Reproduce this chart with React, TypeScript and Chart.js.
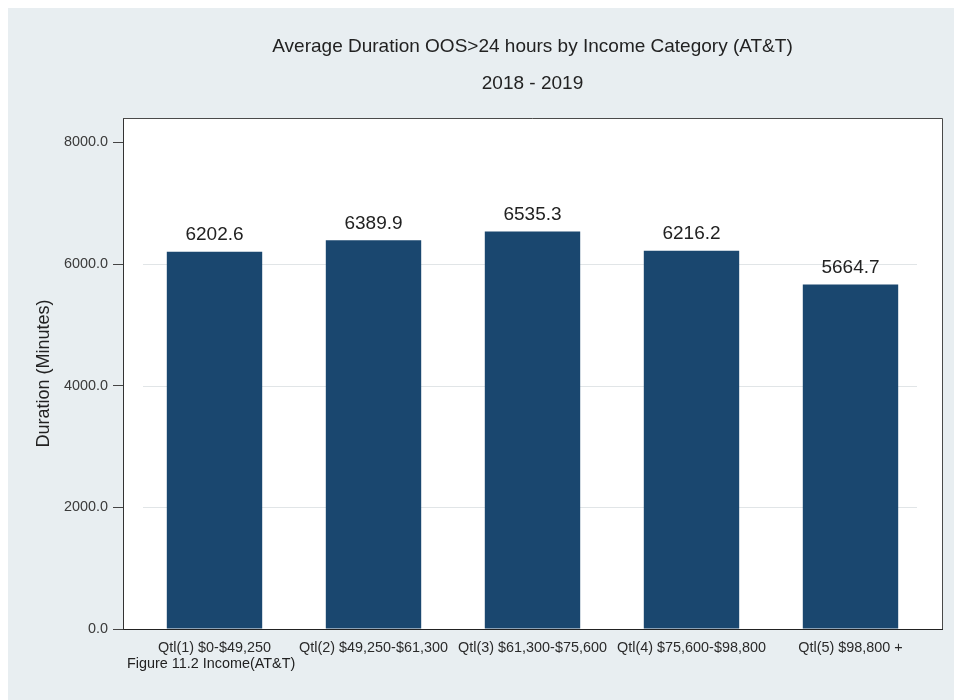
import React, { useEffect, useRef } from "react";
import { Chart, registerables } from "chart.js";

Chart.register(...registerables);

const categories = [
  "Qtl(1) $0-$49,250",
  "Qtl(2) $49,250-$61,300",
  "Qtl(3) $61,300-$75,600",
  "Qtl(4) $75,600-$98,800",
  "Qtl(5) $98,800 +",
];
const durations = [6202.6, 6389.9, 6535.3, 6216.2, 5664.7];
const yTicks = [0, 2000, 4000, 6000, 8000];
const gridValues = [2000, 4000, 6000];
const titleText = "Average Duration OOS>24 hours by Income Category (AT&T)";
const subtitleText = "2018 - 2019";
const yTitle = "Duration (Minutes)";
const noteText = "Figure 11.2 Income(AT&T)";

const FONT = "'Liberation Sans', Arial, Helvetica, sans-serif";
const BG = "#e8eef1";
const BAR = "#1a476f";

const decorPlugin = {
  id: "decor",
  beforeDraw(chart: any) {
    const { ctx, chartArea } = chart;
    ctx.save();
    ctx.fillStyle = BG;
    ctx.fillRect(0, 0, chart.width, chart.height);
    ctx.fillStyle = "#ffffff";
    ctx.fillRect(chartArea.left, chartArea.top, chartArea.right - chartArea.left, chartArea.bottom - chartArea.top);
    ctx.restore();
  },
  beforeDatasetsDraw(chart: any) {
    const { ctx, chartArea, scales } = chart;
    ctx.save();
    ctx.strokeStyle = "#e1e5e7";
    ctx.lineWidth = 1.2;
    gridValues.forEach((v) => {
      const y = Math.round(scales.y.getPixelForValue(v)) + 0.5;
      ctx.beginPath();
      ctx.moveTo(chartArea.left + 20, y);
      ctx.lineTo(chartArea.right - 25, y);
      ctx.stroke();
    });
    ctx.restore();
  },
  afterDatasetsDraw(chart: any) {
    const { ctx } = chart;
    const meta = chart.getDatasetMeta(0);
    ctx.save();
    ctx.fillStyle = "#222222";
    ctx.font = `19px ${FONT}`;
    ctx.textAlign = "center";
    ctx.textBaseline = "alphabetic";
    meta.data.forEach((el: any, i: number) => {
      ctx.fillText(durations[i].toFixed(1), el.x, el.y - 11.5);
    });
    ctx.restore();
  },
  afterDraw(chart: any) {
    const { ctx, chartArea } = chart;
    ctx.save();
    ctx.strokeStyle = "#4a4a4a";
    ctx.lineWidth = 1;
    ctx.beginPath();
    ctx.moveTo(chartArea.left, chartArea.top + 0.5);
    ctx.lineTo(chartArea.right + 0.5, chartArea.top + 0.5);
    ctx.lineTo(chartArea.right + 0.5, chartArea.bottom);
    ctx.stroke();
    ctx.fillStyle = "#222222";
    ctx.font = `14.4px ${FONT}`;
    ctx.textAlign = "left";
    ctx.textBaseline = "middle";
    ctx.fillText(noteText, chartArea.left + 4, 656.5);
    ctx.restore();
  },
};

export default function App() {
  const canvasRef = useRef<HTMLCanvasElement | null>(null);

  useEffect(() => {
    if (!canvasRef.current) return;
    const chart = new Chart(canvasRef.current, {
      type: "bar",
      data: {
        datasets: [
          {
            data: durations.map((v, i) => ({ x: i, y: v })),
            backgroundColor: BAR,
            borderWidth: 0,
            barPercentage: 0.6,
            categoryPercentage: 1,
          },
        ],
      },
      options: {
        animation: false,
        responsive: false,
        layout: { padding: { left: 0, right: 12, top: 0, bottom: 0 } },
        plugins: {
          legend: { display: false },
          tooltip: { enabled: false },
          title: {
            display: true,
            text: titleText,
            fullSize: false,
            color: "#222222",
            font: { family: FONT, size: 19, weight: "normal" },
            padding: { top: 27, bottom: 0 },
          },
          subtitle: {
            display: true,
            text: subtitleText,
            fullSize: false,
            color: "#222222",
            font: { family: FONT, size: 19, weight: "normal" },
            padding: { top: 14.1, bottom: 23.3 },
          },
        },
        scales: {
          x: {
            type: "linear",
            min: -0.5755,
            max: 4.5755,
            offset: false,
            afterBuildTicks: (s: any) => {
              s.ticks = categories.map((_, i) => ({ value: i }));
            },
            afterFit: (s: any) => {
              s.height = 71;
            },
            grid: { drawOnChartArea: false, drawTicks: false, offset: false },
            border: { display: true, color: "#222222", width: 1 },
            ticks: {
              autoSkip: false,
              maxRotation: 0,
              minRotation: 0,
              padding: 10.4,
              color: "#2a2a2a",
              font: { family: FONT, size: 14.4 },
              callback: (v: any) => categories[Math.round(Number(v))] ?? "",
            },
          },
          y: {
            type: "linear",
            min: 0,
            max: 8400,
            afterBuildTicks: (s: any) => {
              s.ticks = yTicks.map((v) => ({ value: v }));
            },
            afterFit: (s: any) => {
              s.width = 115;
            },
            grid: { drawOnChartArea: false, drawTicks: true, tickLength: 10, color: "#444444" },
            border: { display: true, color: "#333333", width: 1 },
            ticks: {
              padding: 5,
              color: "#3a3a3a",
              font: { family: FONT, size: 14.4 },
              callback: (v: any) => Number(v).toFixed(1),
            },
            title: {
              display: true,
              text: yTitle,
              color: "#222222",
              font: { family: FONT, size: 18 },
              padding: { top: 25.7, bottom: 0 },
            },
          },
        },
      } as any,
      plugins: [decorPlugin],
    });
    return () => chart.destroy();
  }, []);

  return (
    <div style={{ position: "fixed", left: 8, top: 8, width: 946, height: 692 }}>
      <canvas ref={canvasRef} width={946} height={692} style={{ width: 946, height: 692, display: "block" }} />
    </div>
  );
}
